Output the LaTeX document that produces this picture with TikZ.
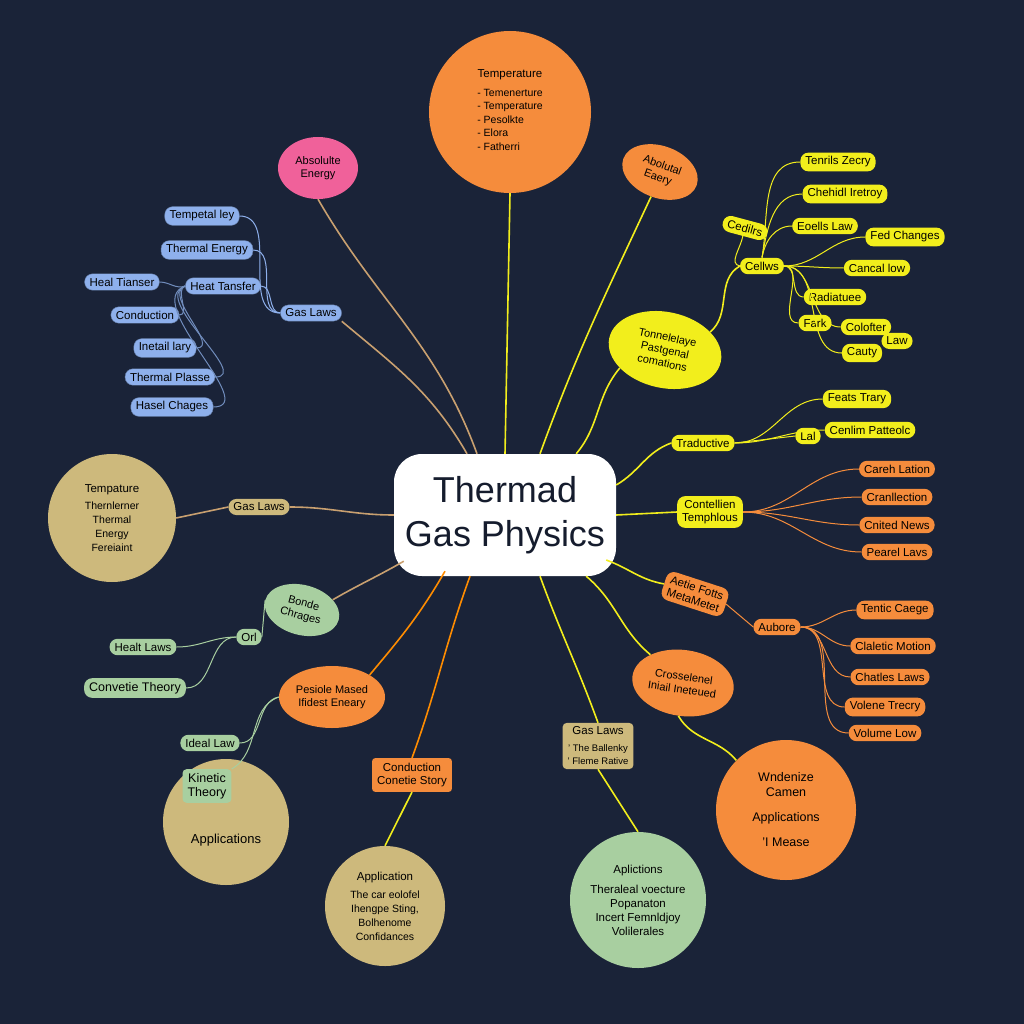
\documentclass[tikz,border=0pt]{standalone}
\usepackage{fontspec}
\setmainfont{Liberation Sans}
\usetikzlibrary{shapes.geometric}
\begin{document}
\begin{tikzpicture}[x=1pt,y=-1pt,
 pill/.style={rounded corners=8pt,inner xsep=5pt,inner ysep=4pt,text=black,font=\fontsize{11.5}{13}\selectfont,align=center},
 bl/.style={pill,fill=blueN,draw=blueN!70!black},
 yl/.style={pill,fill=yelN},
 og/.style={pill,fill=orgN},
 gr/.style={pill,fill=grnN},
 tn/.style={pill,fill=tanN},
 circ/.style={circle,text=black,align=center,font=\fontsize{11.5}{14}\selectfont,inner sep=0pt},
 ell/.style={ellipse,text=black,align=center,font=\fontsize{11}{13}\selectfont,inner sep=1pt},
 ln/.style={line width=1.6pt},
 sl/.style={line width=1pt}]
\definecolor{bg}{HTML}{1A2338}
\definecolor{blueN}{HTML}{8EB0EC}
\definecolor{yelN}{HTML}{F2EE1C}
\definecolor{orgN}{HTML}{F58C3C}
\definecolor{grnN}{HTML}{A8CFA0}
\definecolor{tanN}{HTML}{CDB97C}
\definecolor{pinkN}{HTML}{F0619A}
\definecolor{brn}{HTML}{C9A070}
\fill[bg] (0,0) rectangle (1024,1024);
\useasboundingbox (0,0) rectangle (1024,1024);
% center
\node[fill=white,rounded corners=28pt,minimum width=222pt,minimum height=122pt,align=center,font=\fontsize{36}{44}\selectfont,text=bg!80!black] (c) at (505,515) {Thermad\\Gas Physics};
% top
\node[circ,fill=orgN,minimum size=162pt] (top) at (510,112) {Temperature\\[6pt]{\fontsize{10.5}{13.5}\selectfont\begin{tabular}{@{}l@{}}- Temenerture\\- Temperature\\- Pesolkte\\- Elora\\- Fatherri\end{tabular}}};
\node[ell,fill=pinkN,minimum width=80pt,minimum height=62pt] (pk) at (318,168) {Absolulte\\Energy};
\node[ell,fill=orgN,minimum width=78pt,minimum height=52pt,rotate=-20] (ae) at (660,172) {Abolutal\\Eaery};
% blue
\node[bl] (b1) at (202,216) {Tempetal ley};
\node[bl] (b2) at (207,250) {Thermal Energy};
\node[bl] (b3) at (223,286) {Heat Tansfer};
\node[bl] (bg) at (311,313) {Gas Laws};
\node[bl] (b4) at (122,282) {Heal Tianser};
\node[bl] (b5) at (145,315) {Conduction};
\node[bl] (b6) at (165,348) {Inetail lary};
\node[bl] (b7) at (170,377) {Thermal Plasse};
\node[bl] (b8) at (172,407) {Hasel Chages};
% yellow
\node[yl,rotate=-15] (y1) at (745,228) {Cedilrs};
\node[yl] (y2) at (762,266) {Cellws};
\node[yl] (y3) at (838,162) {Tenrils Zecry};
\node[yl] (y4) at (845,194) {Chehidl Iretroy};
\node[yl] (y5) at (825,226) {Eoells Law};
\node[yl] (y6) at (905,237) {Fed Changes};
\node[yl] (y7) at (877,268) {Cancal low};
\node[yl] (y8) at (835,297) {Radiatuee};
\node[yl] (y9) at (815,323) {Fark};
\node[yl] (y10) at (866,327) {Colofter};
\node[yl] (y11) at (897,341) {Law};
\node[yl] (y12) at (862,353) {Cauty};
\node[ell,fill=yelN,minimum width=114pt,minimum height=76pt,rotate=-12] (ye) at (665,350) {Tonnelelaye\\Pastgenal\\comations};
\node[yl] (y13) at (703,443) {Traductive};
\node[yl] (y14) at (857,399) {Feats Trary};
\node[yl] (y15) at (808,436) {Lal};
\node[yl] (y16) at (870,430) {Cenlim Patteolc};
\node[yl] (y17) at (710,512) {Contellien\\Temphlous};
% orange right
\node[og] (o1) at (897,469) {Careh Lation};
\node[og] (o2) at (897,497) {Cranllection};
\node[og] (o3) at (897,525) {Cnited News};
\node[og] (o4) at (897,552) {Pearel Lavs};
\node[og,rotate=-18] (o5) at (695,594) {Aetie Fotts\\MetaMetet};
\node[og] (o6) at (777,627) {Aubore};
\node[og] (o7) at (895,610) {Tentic Caege};
\node[og] (o8) at (893,646) {Claletic Motion};
\node[og] (o9) at (890,677) {Chatles Laws};
\node[og] (o10) at (885,707) {Volene Trecry};
\node[og] (o11) at (885,733) {Volume Low};
\node[ell,fill=orgN,minimum width=102pt,minimum height=66pt,rotate=-8] (oe) at (683,683) {Crosselenel\\Iniail Ineteued};
\node[circ,fill=orgN,minimum size=140pt,font=\fontsize{12.5}{15}\selectfont] (oc) at (786,810) {Wndenize\\Camen\\[10pt]Applications\\[10pt]'I Mease};
% bottom
\node[tn,rounded corners=4pt] (gl) at (598,746) {Gas Laws\\[4pt]{\fontsize{9.5}{11}\selectfont ' The Ballenky}\\{\fontsize{9.5}{11}\selectfont ' Fleme Rative}};
\node[circ,fill=grnN,minimum size=136pt] (gc) at (638,900) {Aplictions\\[6pt]Theraleal voecture\\Popanaton\\Incert Femnldjoy\\Volilerales};
\node[circ,fill=tanN,minimum size=120pt] (tc) at (385,906) {Application\\[4pt]{\fontsize{10.5}{12.5}\selectfont The car eolofel}\\{\fontsize{10.5}{12.5}\selectfont Ihengpe Sting,}\\{\fontsize{10.5}{12.5}\selectfont Bolhenome}\\{\fontsize{10.5}{12.5}\selectfont Confidances}};
\node[og,rounded corners=3pt,inner sep=5pt] (cd) at (412,775) {Conduction\\Conetie Story};
\node[ell,fill=orgN,minimum width=106pt,minimum height=62pt] (pe) at (332,697) {Pesiole Mased\\Ifidest Eneary};
\node[gr] (g1) at (210,743) {Ideal Law};
\node[circ,fill=tanN,minimum size=126pt,font=\fontsize{13}{15}\selectfont] (ac) at (226,822) {\\[30pt]Applications};
\node[gr,rounded corners=4pt,font=\fontsize{12.5}{14}\selectfont] (g2) at (207,786) {Kinetic\\Theory};
\node[ell,fill=grnN,minimum width=76pt,minimum height=50pt,rotate=-15] (bo) at (302,610) {Bonde\\Chrages};
\node[gr] (g3) at (249,637) {Orl};
\node[gr] (g4) at (143,647) {Healt Laws};
\node[gr,font=\fontsize{12.5}{14}\selectfont] (g5) at (135,688) {Convetie Theory};
% left
\node[circ,fill=tanN,minimum size=128pt] (lc) at (112,518) {Tempature\\[3pt]{\fontsize{10.5}{13}\selectfont Thernlerner}\\{\fontsize{10.5}{13}\selectfont Thermal}\\{\fontsize{10.5}{13}\selectfont Energy}\\{\fontsize{10.5}{13}\selectfont Fereiaint}};
\node[tn] (lg) at (259,507) {Gas Laws};
% connectors
\draw[ln,yelN] (c.north) -- (top.south);
\draw[ln,brn] (c.north) ++(-28,0) to[out=110,in=-60] (pk.south);
\draw[ln,yelN] (c.north) ++(35,0) to[out=70,in=-115] (ae.south);
\draw[ln,brn] (c.north) ++(-38,0) to[out=120,in=-40] (bg.south east);
\draw[ln,yelN] (c.north east) ++(-40,0) to[out=50,in=-130] (ye.south west);
\draw[ln,yelN] (c.east) ++(0,-30) to[out=30,in=-160] (y13.west);
\draw[ln,yelN] (c.east) -- (y17.west);
\draw[ln,yelN] (c.east) ++(-10,45) to[out=-20,in=170] (o5.west);
\draw[ln,yelN] (c.south east) ++(-30,0) to[out=-40,in=140] (oe.north west);
\draw[ln,yelN] (c.south) ++(35,0) to[out=-70,in=110] (gl.north);
\draw[ln,orange!90!yellow] (c.south) ++(-35,0) to[out=-110,in=70] (cd.north);
\draw[ln,orange!90!yellow] (c.south) ++(-60,-5) to[out=-120,in=50] (pe.north east);
\draw[ln,brn] (c.south west) ++(10,-15) to[out=-150,in=30] (bo.north east);
\draw[ln,brn] (c.west) to[out=180,in=0] (lg.east);
\draw[ln,brn] (lg.west) -- (lc.east);
\draw[ln,yelN] (gl.south) -- (gc.north);
\draw[ln,yelN] (cd.south) -- (tc.north);
\draw[ln,yelN] (oe.south) to[out=-60,in=130] (oc.north west);
\draw[ln,yelN] (ye.north east) to[out=40,in=-150] (y2.west);
\draw[sl,yelN] (y2.west) to[out=170,in=-100] (y1.south);
\foreach \n in {y3,y4,y5} \draw[sl,yelN] (y2.north) to[out=80,in=180] (\n.west);
\foreach \n in {y6,y7,y8,y9,y10,y12} \draw[sl,yelN] (y2.east) to[out=0,in=180] (\n.west);
\foreach \n in {y14,y16} \draw[sl,yelN] (y13.east) to[out=0,in=180] (\n.west);
\draw[sl,yelN] (y13.east) -- (y15.west);
\foreach \n in {o1,o2,o3,o4} \draw[sl,orgN] (y17.east) to[out=0,in=180] (\n.west);
\draw[sl,orgN] (o5.east) -- (o6.west);
\foreach \n in {o7,o8,o9,o10,o11} \draw[sl,orgN] (o6.east) to[out=0,in=180] (\n.west);
\foreach \n in {b1,b2,b3} \draw[sl,blueN] (bg.west) to[out=180,in=0] (\n.east);
\foreach \n in {b4,b5,b6,b7,b8} \draw[sl,blueN!80!black] (b3.west) to[out=200,in=0] (\n.east);
\draw[sl,grnN] (bo.west) -- (g3.east);
\foreach \n in {g4,g5} \draw[sl,grnN] (g3.west) to[out=180,in=0] (\n.east);
\draw[sl,grnN] (pe.west) to[out=190,in=0] (g1.east);
\draw[sl,grnN] (pe.west) to[out=200,in=30] (g2.north east);
\end{tikzpicture}
\end{document}
